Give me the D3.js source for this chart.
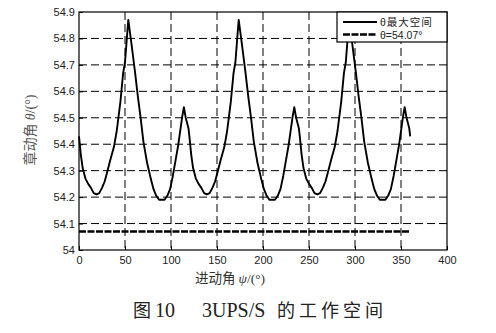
<!DOCTYPE html>
<meta charset="utf-8">
<script src="https://d3js.org/d3.v7.min.js"></script>
<body style="margin:0;background:#fff">
<div id="svg"></div>
<script>
// 进动角 psi (deg) 与 章动角 theta (deg)
var psi = [0,2,4,7,10,13,16,19,22,25,28,31,34,38,41,45,48,50,52,53.6,57,61,64,67,70,74,78,81,84,87,90,93,96,99,102,105,108,112,114,116,119,
	120,122,124,127,130,133,136,139,142,145,148,151,154,158,161,165,168,170,172,173.6,177,181,184,187,190,194,198,201,204,207,210,213,216,219,222,225,228,232,234,236,239,
	240,242,244,247,250,253,256,259,262,265,268,271,274,278,281,285,288,290,292,293.6,297,301,304,307,310,314,318,321,324,327,330,333,336,339,342,345,348,352,354,356,359,360];
var theta = [54.43,54.36,54.31,54.27,54.25,54.235,54.215,54.21,54.215,54.235,54.26,54.30,54.34,54.39,54.45,54.56,54.67,54.71,54.80,54.87,54.78,54.67,54.58,54.50,54.41,54.33,54.27,54.23,54.205,54.19,54.19,54.19,54.205,54.23,54.28,54.34,54.40,54.50,54.54,54.50,54.46,
	54.43,54.36,54.31,54.27,54.25,54.235,54.215,54.21,54.215,54.235,54.26,54.30,54.34,54.39,54.45,54.56,54.67,54.71,54.80,54.87,54.78,54.67,54.58,54.50,54.41,54.33,54.27,54.23,54.205,54.19,54.19,54.19,54.205,54.23,54.28,54.34,54.40,54.50,54.54,54.50,54.46,
	54.43,54.36,54.31,54.27,54.25,54.235,54.215,54.21,54.215,54.235,54.26,54.30,54.34,54.39,54.45,54.56,54.67,54.71,54.80,54.87,54.78,54.67,54.58,54.50,54.41,54.33,54.27,54.23,54.205,54.19,54.19,54.19,54.205,54.23,54.28,54.34,54.40,54.50,54.54,54.50,54.46,54.43];
var limitPsi = [0,360];
var limitTheta = 54.07;
var xTicks = [0,50,100,150,200,250,300,350,400];
var yTicks = [54,54.1,54.2,54.3,54.4,54.5,54.6,54.7,54.8,54.9];
var legendNames = ["θ最大空间","θ=54.07°"];

var W = 496, H = 333;
var pl = 79, pr = 447, pt = 12, pb = 250; //绘图区边界
var svg = d3.select('#svg').append('svg').attr('width',W).attr('height',H);

var x = d3.scaleLinear().domain([0,400]).range([pl,pr]);
var y = d3.scaleLinear().domain([54,54.9]).range([pb,pt]);

// 网格线
var g = svg.append('g');
g.selectAll('.gx').data(xTicks.slice(1,-1)).enter().append('line')
	.attr('x1',d=>x(d)).attr('x2',d=>x(d)).attr('y1',pt).attr('y2',pb)
	.attr('stroke','#000').attr('stroke-width',1).attr('stroke-dasharray','8,4');
g.selectAll('.gy').data(yTicks.slice(1,-1)).enter().append('line')
	.attr('x1',pl).attr('x2',pr).attr('y1',d=>y(d)).attr('y2',d=>y(d))
	.attr('stroke','#000').attr('stroke-width',1).attr('stroke-dasharray','8,4');

// 坐标轴（刻度朝内）
var xa = svg.append('g').attr('transform','translate(0,'+pb+')')
	.call(d3.axisBottom(x).tickValues(xTicks).tickSize(-4).tickPadding(6).tickFormat(d3.format('d')));
var ya = svg.append('g').attr('transform','translate('+pl+',0)')
	.call(d3.axisLeft(y).tickValues(yTicks).tickSize(-4).tickPadding(4).tickFormat(d=>d==54?'54':d3.format('.1f')(d)));
[xa,ya].forEach(function(a){
	a.select('.domain').remove();
	a.selectAll('text').attr('font-family','Liberation Sans, Arial, sans-serif').attr('font-size',11).attr('fill','#222');
	a.selectAll('line').attr('stroke','#000');
});
svg.append('rect').attr('x',pl).attr('y',pt).attr('width',pr-pl).attr('height',pb-pt)
	.attr('fill','none').attr('stroke','#000').attr('stroke-width',1.2);

// 曲线
var pts = psi.map((p,i)=>[p,theta[i]]);
var line = d3.line().x(d=>x(d[0])).y(d=>y(d[1]));
svg.append('path').attr('d',line(pts)).attr('fill','none').attr('stroke','#000').attr('stroke-width',1.9).attr('stroke-linejoin','round');
svg.append('path').attr('d',line(limitPsi.map(p=>[p,limitTheta]))).attr('fill','none').attr('stroke','#000')
	.attr('stroke-width',2.6).attr('stroke-dasharray','7,1.5');

// 图例
var lg = svg.append('g');
lg.append('rect').attr('x',337).attr('y',pt).attr('width',pr-337).attr('height',30)
	.attr('fill','#fff').attr('stroke','#000').attr('stroke-width',1.2);
legendNames.forEach(function(n,i){
	var ly = pt+10+i*12.5;
	lg.append('line').attr('x1',343).attr('x2',377).attr('y1',ly).attr('y2',ly).attr('stroke','#000')
		.attr('stroke-width',i==0?1.8:2.6).attr('stroke-dasharray',i==0?null:'7,1.5');
	lg.append('text').attr('x',380).attr('y',ly+4).text(n).attr('font-size',10.5)
		.attr('font-family','Liberation Sans, Noto Sans CJK SC, sans-serif').attr('fill','#222').attr('letter-spacing',i==0?1:0);
});

// 坐标轴标题
var xl = svg.append('text').attr('x',195).attr('y',283)
	.attr('font-family','Noto Sans CJK SC, sans-serif').attr('font-size',13.5).attr('fill','#333');
xl.append('tspan').text('进动角 ');
xl.append('tspan').text('ψ').attr('font-style','italic').attr('font-family','Liberation Serif, serif');
xl.append('tspan').text('/(°)').attr('font-family','Liberation Serif, serif');
var yl = svg.append('text').attr('transform','translate(35,130) rotate(-90)').attr('text-anchor','middle')
	.attr('font-family','Noto Sans CJK SC, sans-serif').attr('font-size',14).attr('fill','#555');
yl.append('tspan').text('章动角 ');
yl.append('tspan').text('θ').attr('font-style','italic').attr('font-family','Liberation Serif, serif');
yl.append('tspan').text('/(°)').attr('font-family','Liberation Serif, serif');

// 图题
var cap = svg.append('text').attr('y',317).attr('fill','#222')
	.attr('font-family','Liberation Serif, Noto Sans CJK SC, serif');
cap.append('tspan').attr('x',133).attr('font-size',18).text('图');
cap.append('tspan').attr('x',155).attr('font-size',20).text('10');
cap.append('tspan').attr('x',202).attr('font-size',20).text('3UPS/S');
cap.append('tspan').attr('x',277).attr('font-size',18).attr('letter-spacing',4).text('的工作空间');
</script>
</body>
